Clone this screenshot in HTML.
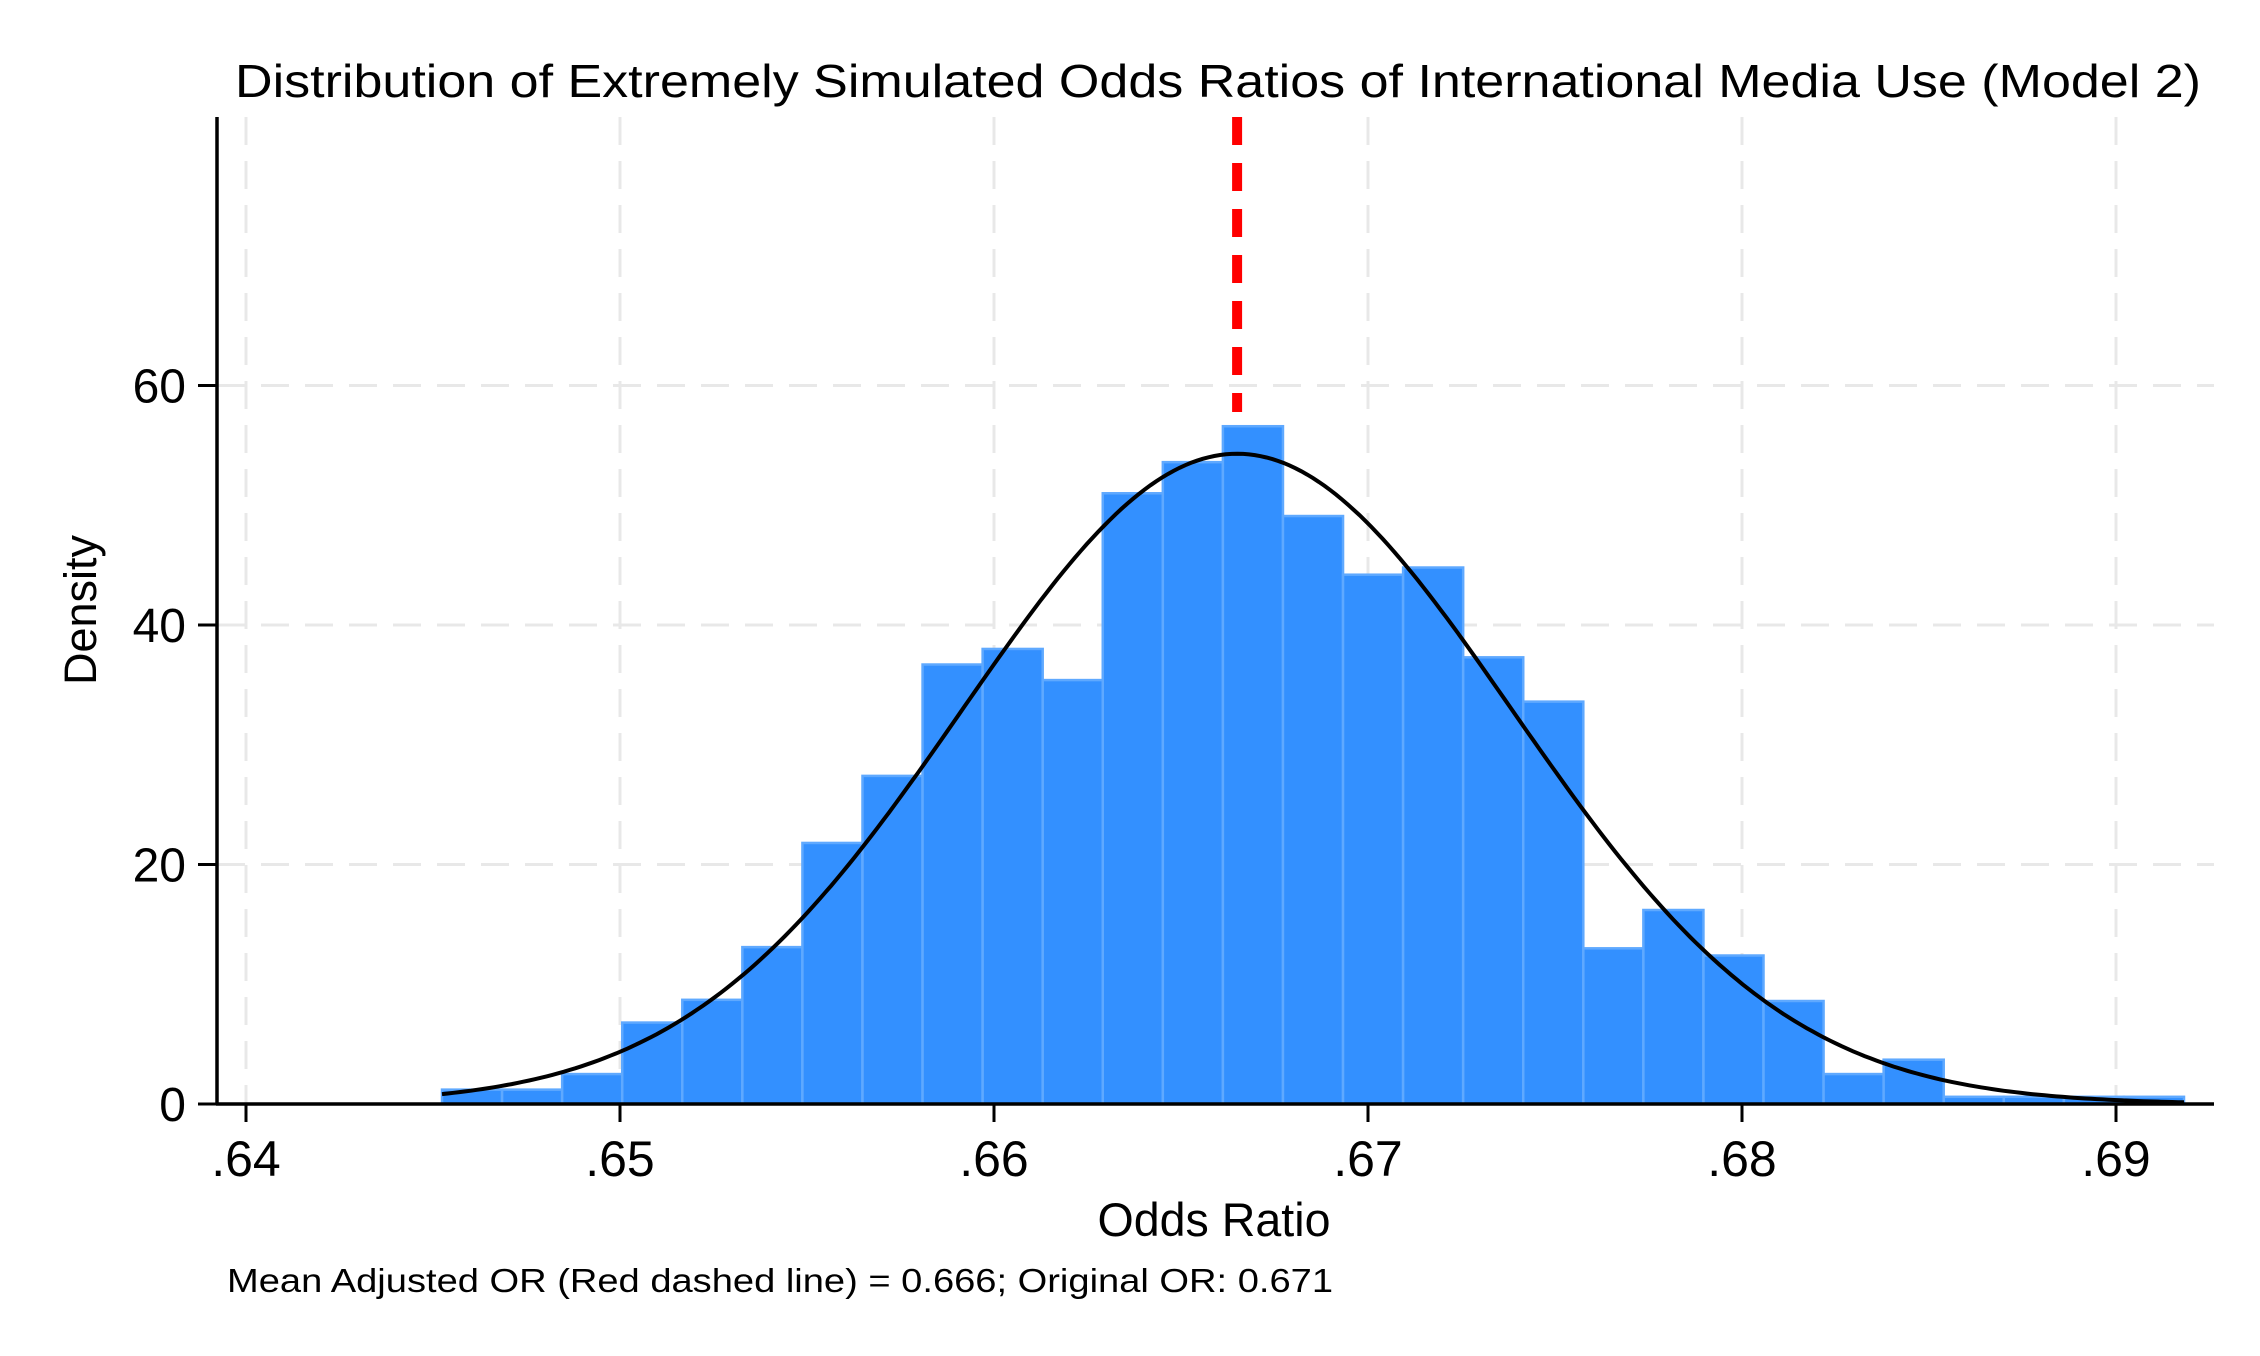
<!DOCTYPE html>
<html><head><meta charset="utf-8"><style>
html,body{margin:0;padding:0;background:#fff;}
svg{display:block;font-family:"Liberation Sans",Arial,sans-serif;}
</style></head><body>
<svg id="chart" width="2260" height="1356" viewBox="0 0 2260 1356" xmlns="http://www.w3.org/2000/svg">
<rect width="2260" height="1356" fill="#fff"/>
<g id="grid"></g><g id="bars"></g><g id="curve"></g><g id="axes"></g>
<text x="1218" y="97" font-size="46" text-anchor="middle" textLength="1966" lengthAdjust="spacingAndGlyphs">Distribution of Extremely Simulated Odds Ratios of International Media Use (Model 2)</text>
<text x="1214" y="1236" font-size="47" text-anchor="middle" textLength="233" lengthAdjust="spacingAndGlyphs">Odds Ratio</text>
<text transform="translate(96,610) rotate(-90)" font-size="45" text-anchor="middle">Density</text>
<text x="227" y="1292" font-size="33" textLength="1106" lengthAdjust="spacingAndGlyphs">Mean Adjusted OR (Red dashed line) = 0.666; Original OR: 0.671</text>
</svg>
<script>
const binStart = 0.645241;
const binWidth = 0.0016061;
const densities = [1.2,1.2,2.5,6.8,8.7,13.1,21.8,27.4,36.7,38.0,35.4,51.0,53.6,56.6,49.1,44.2,44.8,37.3,33.6,13.0,16.2,12.4,8.6,2.5,3.7,0.6,0.6,0.6,0.6];
const xTicks = [0.64,0.65,0.66,0.67,0.68,0.69];
const xTickLabels = [".64",".65",".66",".67",".68",".69"];
const yTicks = [0,20,40,60];
const yTickLabels = ["0","20","40","60"];
const meanOR = [0.6665];
const curveSd = [0.007347];

const NS="http://www.w3.org/2000/svg";
function X(v){return 246+(v-0.64)/0.01*374;}
function Y(v){return 1104-v*(1104-385.5)/60;}
function mk(tag,attrs,parent){const e=document.createElementNS(NS,tag);for(const k in attrs)e.setAttribute(k,attrs[k]);document.getElementById(parent).appendChild(e);return e;}

yTicks.forEach((t,i)=>{
  if(t>0){const g=mk('line',{x1:217,x2:2214,y1:Y(t),y2:Y(t),stroke:'#e8e8e8','stroke-width':3,'stroke-dasharray':'28,16'},'grid');
  
  }
  const tk=mk('line',{x1:198,x2:217,y1:Y(t),y2:Y(t),stroke:'#000','stroke-width':3},'axes');
  
  
  const lb=mk('text',{x:186,y:Y(t)+17,'font-size':48,'text-anchor':'end'},'axes');
  lb.textContent=yTickLabels[i];
  
  
});
xTicks.forEach((t,i)=>{
  const g=mk('line',{x1:X(t),x2:X(t),y1:117,y2:1104,stroke:'#e8e8e8','stroke-width':3,'stroke-dasharray':'28,16'},'grid');
  
  
  const tk=mk('line',{x1:X(t),x2:X(t),y1:1104,y2:1122,stroke:'#000','stroke-width':3},'axes');
  
  
  const lb=mk('text',{x:X(t),y:1176,'font-size':50,'text-anchor':'middle'},'axes');
  lb.textContent=xTickLabels[i];
  
  
});
densities.forEach((d,i)=>{
  const x0=X(binStart+i*binWidth), x1=X(binStart+(i+1)*binWidth);
  const r=mk('rect',{x:x0,y:Y(d),width:x1-x0,height:Y(0)-Y(d),fill:'#3390ff',stroke:'#5fa9ff','stroke-width':2.5},'bars');
  
  
});
const peak=1/(curveSd[0]*Math.sqrt(2*Math.PI));
let pts=[];const xEnd=binStart+densities.length*binWidth;
for(let k=0;k<=300;k++){const v=binStart+(xEnd-binStart)*k/300;const z=(v-meanOR[0])/curveSd[0];pts.push(X(v).toFixed(1)+','+Y(peak*Math.exp(-z*z/2)).toFixed(1));}
const c=mk('polyline',{points:pts.join(' '),fill:'none',stroke:'#000','stroke-width':4},'curve');


const m=mk('line',{x1:X(meanOR[0]),x2:X(meanOR[0]),y1:117,y2:412,stroke:'#ff0000','stroke-width':10,'stroke-dasharray':'28,18'},'curve');


const ya=mk('line',{x1:217,x2:217,y1:117,y2:1105,stroke:'#000','stroke-width':3.5},'axes');


const xa=mk('line',{x1:216,x2:2214,y1:1104,y2:1104,stroke:'#000','stroke-width':3.5},'axes');


</script>
</body></html>
